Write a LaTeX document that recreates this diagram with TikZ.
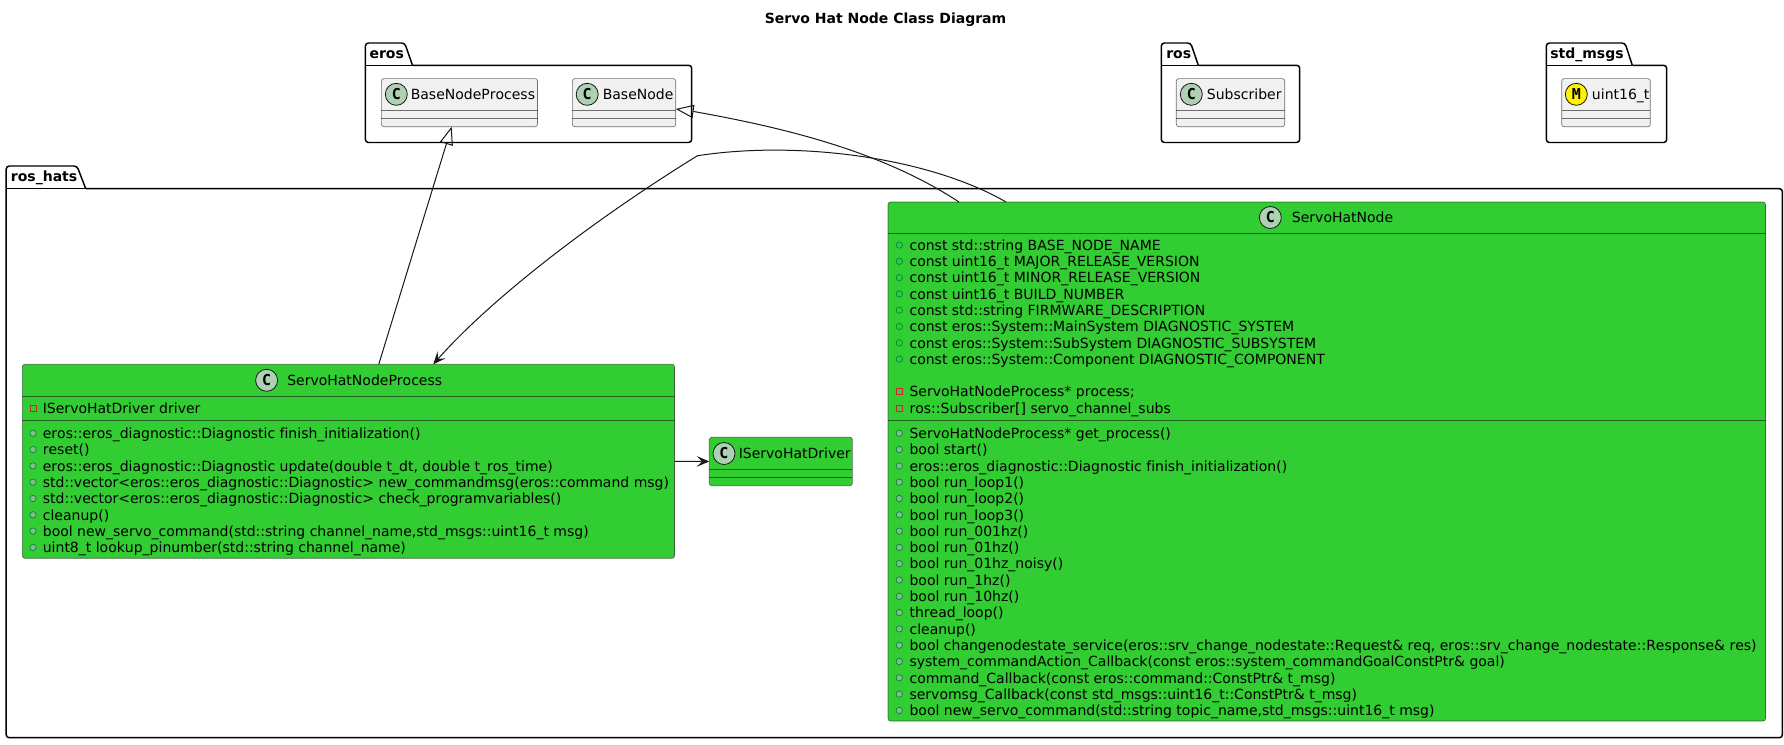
\documentclass[tikz,border=0pt]{standalone}
\usepackage{fontspec}
\setmainfont[Ligatures=CommonOff,Kerning=Off]{DejaVu Sans}
\newfontfamily\circfont{DejaVu Sans Mono}
\usetikzlibrary{arrows.meta,calc}
\catcode`\_=12
\definecolor{limeg}{HTML}{32CD32}
\definecolor{plain}{HTML}{F1F1F1}
\definecolor{edgek}{HTML}{181818}
\definecolor{circg}{HTML}{ADD1B2}
\definecolor{pubg}{HTML}{038048}
\definecolor{pubf}{HTML}{84BE84}
\definecolor{privr}{HTML}{C82930}
\newcounter{rowid}
\newcommand\startrows[3]{\gdef\ix{#1}\gdef\tx{#2}\gdef\ry{#3}}
\newcommand\memrow[2]{%
  \stepcounter{rowid}%
  \pgfmathsetmacro\ty{\ry+5.2}%
  \node[#1] (ic\therowid) at (\ix,\ry) {};
  \node[memtext] (tx\therowid) at (\tx,\ty) {#2};
  \pgfmathsetmacro\tmp{\ry+16.3}\global\let\ry\tmp
}
\newcommand\blankrow{\pgfmathsetmacro\tmp{\ry+16.3}\global\let\ry\tmp}
\newcommand\classbox[6]{%
  \node[classshape,fill=#6,minimum width={(#4-#2)*0.75pt},minimum height={(#5-#3)*0.75pt}] (#1) at ({(#2+#4)/2},{(#3+#5)/2}) {};
}
\newcommand\sepline[3]{\draw[sepstyle] (#1,#3) -- (#2,#3);}
\newcommand\package[9]{%
  % #1 name #2 l #3 tabtop #4 tabright-top #5 tabright-bottom #6 bodytop #7 r #8 bottom #9 label x
  \draw[pkgline] (#5,#6) -- (#7,#6) -- (#7,#8) -- (#2,#8) -- (#2,#3) -- (#4,#3) -- (#5,#6);
  \draw[pkgplain] (#2,#6) -- (#5,#6);
  \pgfmathsetmacro\ly{#6-7.1}%
  \node[pkglabel] (#1) at (#9,\ly) {#1};
}
\tikzset{
  x=0.75pt,y=-0.75pt,
  classshape/.style={draw=edgek,draw opacity=0.6,line width=0.5pt,rounded corners=1.9pt,inner sep=0pt,outer sep=0pt},
  sepstyle/.style={draw=edgek,draw opacity=0.6,line width=0.5pt},
  pkgline/.style={draw=black,line width=1.1pt,rounded corners=2.3pt},
  pkgplain/.style={draw=black,line width=1.1pt},
  pkglabel/.style={anchor=base west,inner sep=0pt,font=\fontsize{10.5}{12}\selectfont\bfseries},
  memtext/.style={anchor=base west,inner sep=0pt,font=\fontsize{10.5}{12}\selectfont},
  cname/.style={anchor=base west,inner sep=0pt,font=\fontsize{10.5}{12}\selectfont},
  circ/.style={circle,draw=edgek,line width=0.6pt,minimum size=16.5pt,inner sep=0pt,font=\circfont\fontsize{11.25}{12}\selectfont\bfseries},
  pub/.style={circle,draw=pubg,line width=0.5pt,minimum size=4.8pt,inner sep=0pt},
  pubm/.style={circle,draw=pubg,fill=pubf,line width=0.5pt,minimum size=4.8pt,inner sep=0pt},
  priv/.style={rectangle,draw=privr,line width=0.6pt,minimum size=4.5pt,inner sep=0pt},
  conn/.style={draw=edgek,line width=0.75pt},
  exttip/.style={conn,-{Triangle[open,length=13.5pt,width=10pt]}},
  deptip/.style={conn,-{Stealth[length=9.5pt,width=8pt,inset=4.2pt]}},
}
\begin{document}
\begin{tikzpicture}
\fill[white] (0,0) rectangle (1784,744);
\useasboundingbox (0,0) rectangle (1784,744);

\node[anchor=base,inner sep=0pt,font=\fontsize{10.5}{12}\selectfont\bfseries] (title) at (885.5,23) {Servo Hat Node Class Diagram};

% packages
\package{eros}{365.4}{43}{404.7}{412.5}{65.3}{691.7}{142.5}{369.3}
\package{ros}{1161.3}{43}{1190.7}{1198.3}{65.3}{1299.7}{142.5}{1166}
\package{std_msgs}{1546.3}{43}{1625}{1632.3}{65.3}{1666.7}{142.5}{1550}
\package{ros_hats}{6.2}{166}{77}{85.7}{188.6}{1782.4}{737.7}{10.7}

% plain classes
\classbox{BaseNodeProcess}{381.4}{78.6}{537.5}{126.7}{plain}
\sepline{381.4}{537.5}{110.3}\sepline{381.4}{537.5}{118.3}
\node[circ,fill=circg] (cBNP) at (396.3,94.3) {C};
\node[cname] (nBNP) at (410.5,99.5) {BaseNodeProcess};

\classbox{BaseNode}{572.4}{78.6}{675.7}{126.7}{plain}
\sepline{572.4}{675.7}{110.3}\sepline{572.4}{675.7}{118.3}
\node[circ,fill=circg] (cBN) at (587.2,94.3) {C};
\node[cname] (nBN) at (602.5,99.5) {BaseNode};

\classbox{Subscriber}{1176.3}{78.6}{1284.7}{126.7}{plain}
\sepline{1176.3}{1284.7}{110.3}\sepline{1176.3}{1284.7}{118.3}
\node[circ,fill=circg] (cSub) at (1191.3,94.3) {C};
\node[cname] (nSub) at (1206.7,99.5) {Subscriber};

\classbox{uint16t}{1561.7}{78.6}{1650.3}{126.7}{plain}
\sepline{1561.7}{1650.3}{110.3}\sepline{1561.7}{1650.3}{118.3}
\node[circ,fill=yellow] (cUint) at (1576.3,94.3) {M};
\node[cname] (nUint) at (1591.7,99.5) {uint16_t};

% ServoHatNodeProcess
\classbox{SHNP}{22.4}{364.3}{674.5}{558.3}{limeg}
\sepline{22.4}{674.5}{396.3}\sepline{22.4}{674.5}{420.3}
\node[circ,fill=circg] (cSHNP) at (266.6,380.3) {C};
\node[cname] (nSHNP) at (287,385.5) {ServoHatNodeProcess};
\startrows{33}{42.6}{408.3}
\memrow{priv}{IServoHatDriver driver}
\startrows{33}{42.6}{433.3}
\memrow{pubm}{eros::eros_diagnostic::Diagnostic finish_initialization()}
\memrow{pubm}{reset()}
\memrow{pubm}{eros::eros_diagnostic::Diagnostic update(double t_dt, double t_ros_time)}
\memrow{pubm}{std::vector<eros::eros_diagnostic::Diagnostic> new_commandmsg(eros::command msg)}
\memrow{pubm}{std::vector<eros::eros_diagnostic::Diagnostic> check_programvariables()}
\memrow{pubm}{cleanup()}
\memrow{pubm}{bool new_servo_command(std::string channel_name,std_msgs::uint16_t msg)}
\memrow{pubm}{uint8_t lookup_pinumber(std::string channel_name)}

% IServoHatDriver
\classbox{ISHD}{709.3}{437.3}{852.4}{485.7}{limeg}
\sepline{709.3}{852.4}{469.3}\sepline{709.3}{852.4}{477.3}
\node[circ,fill=circg] (cISHD) at (724,453.5) {C};
\node[cname] (nISHD) at (738.5,458.7) {IServoHatDriver};

% ServoHatNode
\classbox{SHN}{888}{202}{1765.5}{721}{limeg}
\sepline{888}{1765.5}{233.3}\sepline{888}{1765.5}{420}
\node[circ,fill=circg] (cSHN) at (1270.3,217.5) {C};
\node[cname] (nSHN) at (1291.7,222.7) {ServoHatNode};
\startrows{899.3}{909.3}{245}
\memrow{pub}{const std::string BASE_NODE_NAME}
\memrow{pub}{const uint16_t MAJOR_RELEASE_VERSION}
\memrow{pub}{const uint16_t MINOR_RELEASE_VERSION}
\memrow{pub}{const uint16_t BUILD_NUMBER}
\memrow{pub}{const std::string FIRMWARE_DESCRIPTION}
\memrow{pub}{const eros::System::MainSystem DIAGNOSTIC_SYSTEM}
\memrow{pub}{const eros::System::SubSystem DIAGNOSTIC_SUBSYSTEM}
\memrow{pub}{const eros::System::Component DIAGNOSTIC_COMPONENT}
\blankrow
\memrow{priv}{ServoHatNodeProcess* process;}
\memrow{priv}{ros::Subscriber[] servo_channel_subs}
\startrows{899.3}{909.3}{433.3}
\memrow{pubm}{ServoHatNodeProcess* get_process()}
\memrow{pubm}{bool start()}
\memrow{pubm}{eros::eros_diagnostic::Diagnostic finish_initialization()}
\memrow{pubm}{bool run_loop1()}
\memrow{pubm}{bool run_loop2()}
\memrow{pubm}{bool run_loop3()}
\memrow{pubm}{bool run_001hz()}
\memrow{pubm}{bool run_01hz()}
\memrow{pubm}{bool run_01hz_noisy()}
\memrow{pubm}{bool run_1hz()}
\memrow{pubm}{bool run_10hz()}
\memrow{pubm}{thread_loop()}
\memrow{pubm}{cleanup()}
\memrow{pubm}{bool changenodestate_service(eros::srv_change_nodestate::Request\& req, eros::srv_change_nodestate::Response\& res)}
\memrow{pubm}{system_commandAction_Callback(const eros::system_commandGoalConstPtr\& goal)}
\memrow{pubm}{command_Callback(const eros::command::ConstPtr\& t_msg)}
\memrow{pubm}{servomsg_Callback(const std_msgs::uint16_t::ConstPtr\& t_msg)}
\memrow{pubm}{bool new_servo_command(std::string topic_name,std_msgs::uint16_t msg)}

% connectors
\draw[exttip] ($(SHNP.north)+(30.3,0)$) -- ($(BaseNodeProcess.south)+(-7.8,0)$);
\draw[exttip] ($(SHN.north west)+(71,0)$) .. controls (880,150) and (780,127) .. (693.8,111.5) -- ($(BaseNode.east)+(0,6.3)$);
\draw[deptip] ($(SHN.north west)+(118,0)$) .. controls (930,158) and (800,140) .. (697.5,155.7) .. controls (590,222) and (490,300) .. ($(SHNP.north)+(84.8,0)$);
\draw[deptip] (SHNP.east) -- (ISHD.west);
\end{tikzpicture}
\end{document}
